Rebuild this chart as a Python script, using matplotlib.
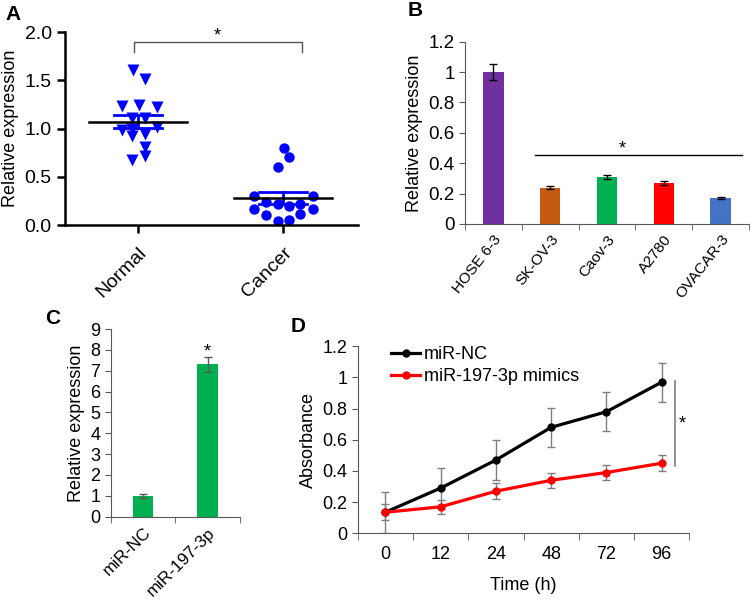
import numpy as np
import matplotlib.pyplot as plt

plt.rcParams['font.family'] = ['Liberation Sans', 'DejaVu Sans']

# Panel A: scatter of individual samples
normal_vals = [1.61, 1.51, 1.23, 1.24, 1.22, 1.11, 1.11, 1.02, 0.98, 0.92, 0.94, 0.81, 0.67, 0.71, 1.00]
cancer_vals = [0.80, 0.70, 0.60, 0.30, 0.30, 0.24, 0.22, 0.20, 0.22, 0.17, 0.17, 0.10, 0.11, 0.045, 0.05]
groups_a = ['Normal', 'Cancer']

# Panel B: cell lines
cells = ['HOSE 6-3', 'SK-OV-3', 'Caov-3', 'A2780', 'OVACAR-3']
cell_expr = [1.0, 0.24, 0.31, 0.27, 0.17]
cell_err = [0.05, 0.01, 0.015, 0.01, 0.005]

# Panel C: transfection
groups_c = ['miR-NC', 'miR-197-3p']
c_expr = [1.0, 7.3]
c_err = [0.08, 0.36]

# Panel D: growth curve
hours = ['0', '12', '24', '48', '72', '96']
nc_abs = [0.135, 0.29, 0.47, 0.68, 0.78, 0.97]
nc_err = [0.13, 0.13, 0.13, 0.125, 0.125, 0.125]
mim_abs = [0.135, 0.17, 0.27, 0.34, 0.39, 0.45]
mim_err = [0.05, 0.045, 0.05, 0.05, 0.05, 0.05]

# swarm offsets (layout only)
normal_dx = [-0.035, 0.05, -0.11, 0.01, 0.13, -0.04, 0.05, 0.13, -0.11, -0.04, 0.05, 0.05, -0.04, 0.05, -0.04]
cancer_dx = [0.005, 0.04, -0.035, -0.2, 0.205, -0.12, -0.035, 0.04, 0.12, -0.2, 0.205, -0.12, 0.12, -0.035, 0.04]

fig = plt.figure(figsize=(7.52, 6.08), dpi=100)
W, H = 752, 608


def box(l, t, r, b):
    return [l / W, 1 - b / H, (r - l) / W, (b - t) / H]


# ---------- A ----------
ax = fig.add_axes(box(65, 32, 358, 225))
blue = '#0000FF'
ax.plot(np.array(normal_dx), normal_vals, 'v', color=blue, ms=8, mec='none')
ax.plot(1 + np.array(cancer_dx), cancer_vals, 'o', color=blue, ms=7.5, mec='none')
for i, vals in enumerate([normal_vals, cancer_vals]):
    m = np.mean(vals)
    sem = np.std(vals, ddof=1) / np.sqrt(len(vals))
    ax.plot([i - 0.165, i + 0.165], [m + sem] * 2, color=blue, lw=2)
    ax.plot([i - 0.165, i + 0.165], [m - sem] * 2, color=blue, lw=2)
    ax.plot([i, i], [m - sem, m + sem], color=blue, lw=2)
    ax.plot([i - 0.34, i + 0.34], [m, m], color='black', lw=1.8)
ax.plot([-0.03, -0.03, 1.13, 1.13], [1.79, 1.90, 1.90, 1.79], color='#555555', lw=1)
ax.text(0.55, 1.87, '*', ha='center', va='bottom', fontsize=13)
ax.set_xlim(-0.503, 1.517)
ax.set_ylim(0, 2.0)
ax.set_yticks([0, 0.5, 1.0, 1.5, 2.0])
ax.set_yticklabels(['0.0', '0.5', '1.0', '1.5', '2.0'])
ax.set_xticks([0, 1])
ax.set_xticklabels(groups_a, rotation=45, ha='right', rotation_mode='anchor')
ax.tick_params(labelsize=14, width=1.8, length=6)
ax.tick_params(axis='x', pad=8)
for s in ['top', 'right']:
    ax.spines[s].set_visible(False)
for s in ['left', 'bottom']:
    ax.spines[s].set_linewidth(1.8)
ax.set_ylabel('Relative expression', fontsize=13)
fig.text(5 / W, 1 - 14 / H, 'A', fontsize=15, fontweight='bold', va='center')

# ---------- B ----------
ax = fig.add_axes(box(465, 41.7, 749, 224))
xb = np.arange(len(cells))
colors_b = ['#7030A0', '#C55A11', '#00B050', '#FF0000', '#4472C4']
ax.bar(xb, cell_expr, width=0.36, color=colors_b)
ax.errorbar(xb, cell_expr, yerr=cell_err, fmt='none', ecolor='black', elinewidth=1, capsize=3)
ax.plot([0.74, 4.38], [0.455, 0.455], color='black', lw=1)
ax.text(2.27, 0.44, '*', ha='center', va='bottom', fontsize=13)
ax.set_xlim(-0.5, 4.5)
ax.set_ylim(0, 1.2)
ax.set_yticks(np.arange(0, 1.21, 0.2))
ax.set_yticklabels(['0', '0.2', '0.4', '0.6', '0.8', '1', '1.2'])
ax.set_xticks(xb)
ax.set_xticklabels(cells, rotation=52, ha='right', rotation_mode='anchor')
ax.set_xticks(np.arange(-0.5, 4.6, 1), minor=True)
ax.tick_params(axis='x', which='major', length=0, labelsize=11, pad=6)
ax.tick_params(axis='x', which='minor', length=4, color='#595959')
ax.tick_params(axis='y', labelsize=13.5, length=4, color='#595959')
for s in ['top', 'right']:
    ax.spines[s].set_visible(False)
for s in ['left', 'bottom']:
    ax.spines[s].set_color('#595959')
ax.set_ylabel('Relative expression', fontsize=13)
fig.text(408 / W, 1 - 11 / H, 'B', fontsize=15, fontweight='bold', va='center')

# ---------- C ----------
ax = fig.add_axes(box(110.7, 329, 240, 516.7))
xc = np.arange(len(groups_c))
ax.bar(xc, c_expr, width=0.32, color='#00B050')
ax.errorbar(xc, c_expr, yerr=c_err, fmt='none', ecolor='#595959', elinewidth=1, capsize=3)
ax.text(1, c_expr[1] + c_err[1] - 0.15, '*', ha='center', va='bottom', fontsize=13)
ax.set_xlim(-0.5, 1.5)
ax.set_ylim(0, 9)
ax.set_yticks(range(10))
ax.set_xticks(xc)
ax.set_xticklabels(groups_c, rotation=45, ha='right', rotation_mode='anchor')
ax.set_xticks([-0.5, 0.5, 1.5], minor=True)
ax.tick_params(axis='x', which='major', length=0, labelsize=12.3, pad=6)
ax.tick_params(axis='x', which='minor', length=4, color='#595959')
ax.tick_params(axis='y', labelsize=13, length=4, color='#595959')
for s in ['top', 'right']:
    ax.spines[s].set_visible(False)
for s in ['left', 'bottom']:
    ax.spines[s].set_color('#595959')
ax.set_ylabel('Relative expression', fontsize=13)
fig.text(45 / W, 1 - 319 / H, 'C', fontsize=15, fontweight='bold', va='center')

# ---------- D ----------
ax = fig.add_axes(box(357.7, 346.3, 689.3, 533.3))
xd = np.arange(len(hours))
ax.errorbar(xd, nc_abs, yerr=nc_err, fmt='none', ecolor='#7f7f7f', elinewidth=1, capsize=3)
ax.errorbar(xd, mim_abs, yerr=mim_err, fmt='none', ecolor='#7f7f7f', elinewidth=1, capsize=3)
ax.plot(xd, nc_abs, '-o', color='black', lw=2.3, ms=5, label='miR-NC')
ax.plot(xd, mim_abs, '-o', color='#FF0000', lw=2.3, ms=5, label='miR-197-3p mimics')
ax.plot([5.24, 5.24], [0.43, 0.975], color='#7f7f7f', lw=1.2)
ax.text(5.38, 0.70, '*', ha='center', va='center', fontsize=13)
ax.legend(loc='upper left', bbox_to_anchor=(0.08, 1.04), frameon=False, fontsize=13,
          handlelength=1.6, handletextpad=0.2, labelspacing=0.3, borderaxespad=0)
ax.set_xlim(-0.5, 5.5)
ax.set_ylim(0, 1.2)
ax.set_yticks(np.arange(0, 1.21, 0.2))
ax.set_yticklabels(['0', '0.2', '0.4', '0.6', '0.8', '1', '1.2'])
ax.set_xticks(xd)
ax.set_xticklabels(hours)
ax.set_xticks(np.arange(-0.5, 5.6, 1), minor=True)
ax.tick_params(axis='x', which='major', length=0, labelsize=13, pad=9)
ax.tick_params(axis='x', which='minor', length=5, color='#595959')
ax.tick_params(axis='y', labelsize=13, length=4, color='#595959')
for s in ['top', 'right']:
    ax.spines[s].set_visible(False)
for s in ['left', 'bottom']:
    ax.spines[s].set_color('#595959')
ax.set_ylabel('Absorbance', fontsize=13)
ax.set_xlabel('Time (h)', fontsize=13, labelpad=10)
fig.text(291 / W, 1 - 327 / H, 'D', fontsize=15, fontweight='bold', va='center')

fig.savefig('out.png', dpi=100)
